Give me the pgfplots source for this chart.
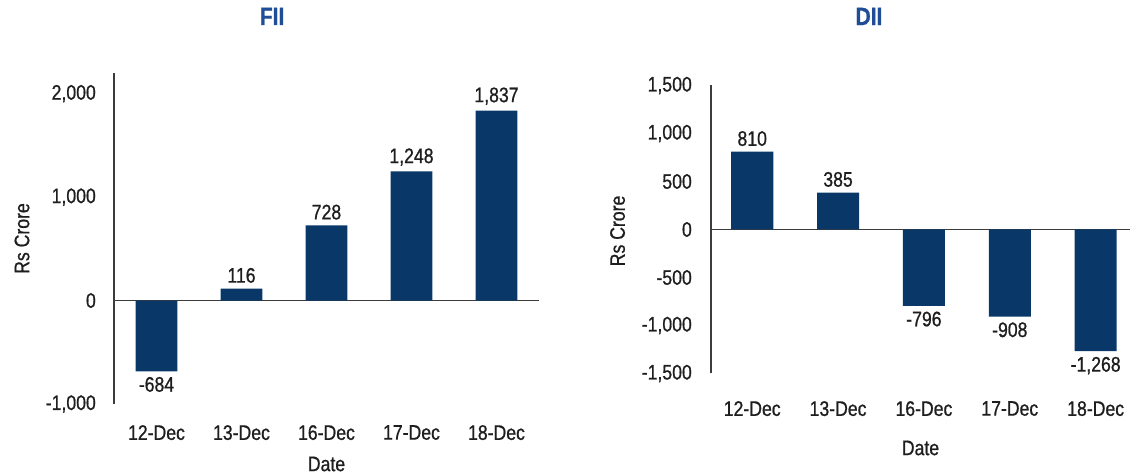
\documentclass[border=0pt]{standalone}
\usepackage{fontspec}
\setmainfont[FakeStretch=0.84, FakeBold=0.8]{Liberation Sans}
\usepackage{pgfplots}
\pgfplotsset{compat=1.18}
\definecolor{barblue}{RGB}{9,56,104}
\definecolor{titleblue}{RGB}{31,78,150}
\definecolor{txt}{RGB}{30,30,30}
\definecolor{axisgray}{RGB}{60,60,60}
\newcommand{\lbl}{\fontsize{21}{24}\selectfont}

\pgfplotsset{
  mybar/.style={
    scale only axis,
    anchor=south west,
    ybar,
    bar width=0.49,
    xtick={0,1,2,3,4},
    xticklabels={12-Dec,13-Dec,16-Dec,17-Dec,18-Dec},
    axis y line*=left,
    axis x line*=bottom,
    x axis line style={draw=none},
    y axis line style={axisgray, line width=1.4pt},
    major tick length=0pt,
    scaled y ticks=false,
    /pgf/number format/1000 sep={,},
    /pgf/number format/assume math mode=true,
    tick label style={font=\lbl, text=txt},
    yticklabel style={anchor=east, inner sep=0pt},
    xticklabel style={anchor=north, inner sep=0pt},
    label style={font=\lbl, text=txt},
    title style={font=\fontsize{25}{28}\selectfont\bfseries, text=titleblue, anchor=center},
    extra y ticks={0},
    extra y tick labels={},
    extra y tick style={grid=major, major grid style={axisgray, line width=1.4pt}},
    nodes near coords,
    nodes near coords align={vertical},
    every node near coord/.append style={font=\lbl, text=txt, inner sep=5.5pt},
    clip=false,
  }
}

\begin{document}
\begin{tikzpicture}[x=1pt,y=1pt]
\useasboundingbox (0,0) rectangle (1130,476);

% FII
\begin{axis}[mybar,
  at={(114pt,72pt)},
  width=425pt, height=331pt,
  xmin=-0.5, xmax=4.5,
  ymin=-1000, ymax=2200,
  ytick={-1000,0,1000,2000},
  yticklabel style={xshift=-18pt},
  xticklabel style={yshift=-21pt},
  title={FII},
  title style={at={(axis description cs:0.372,1.153)}},
  ylabel={Rs Crore},
  ylabel style={at={(axis description cs:-0.2165,0.50)}, anchor=center},
  xlabel={Date},
  xlabel style={at={(axis description cs:0.5,0)}, anchor=center, yshift=-60pt},
]
\addplot[fill=barblue, draw=none] coordinates {(0,-684) (1,116) (2,728) (3,1248) (4,1837)};
\end{axis}

% DII
\begin{axis}[mybar,
  at={(711pt,102.5pt)},
  width=419pt, height=288pt,
  xmin=-0.48, xmax=4.4,
  ymin=-1500, ymax=1500,
  ytick={-1500,-1000,-500,0,500,1000,1500},
  yticklabel style={xshift=-19pt},
  xticklabel style={yshift=-27.5pt},
  title={DII},
  title style={at={(axis description cs:0.377,1.219)}},
  ylabel={Rs Crore},
  ylabel style={at={(axis description cs:-0.223,0.495)}, anchor=center},
  xlabel={Date},
  xlabel style={at={(axis description cs:0.5,0)}, anchor=center, yshift=-74.5pt},
]
\addplot[fill=barblue, draw=none] coordinates {(0,810) (1,385) (2,-796) (3,-908) (4,-1268)};
\end{axis}
\end{tikzpicture}
\end{document}
